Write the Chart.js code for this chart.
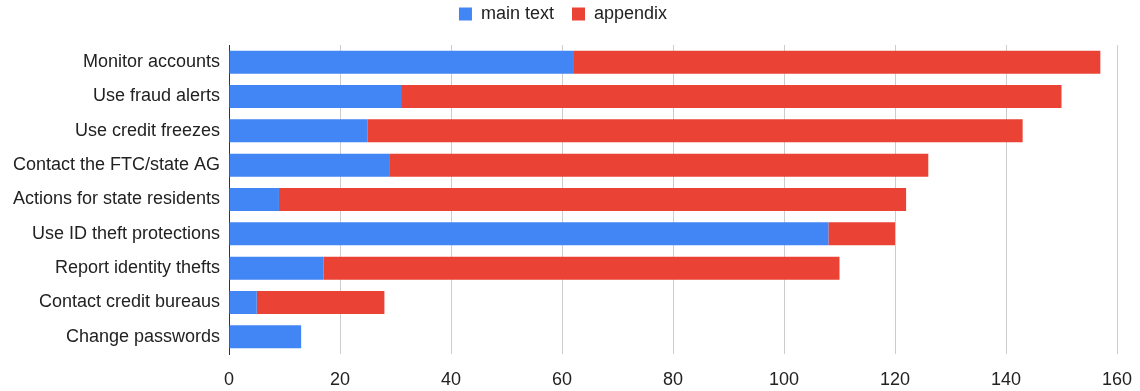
<!DOCTYPE html>
<html lang="en">
<head>
  <meta charset="UTF-8">
  <title>Recommended actions</title>
  <script src="https://cdn.jsdelivr.net/npm/chart.js"></script>
  <style>
    html, body { margin: 0; padding: 0; background: #fff; }
    #wrap { width: 1140px; height: 391px; }
  </style>
</head>
<body>
  <div id="wrap"><canvas id="actionsChart"></canvas></div>

  <script>
    const categories = [
      'Monitor accounts',
      'Use fraud alerts',
      'Use credit freezes',
      'Contact the FTC/state AG',
      'Actions for state residents',
      'Use ID theft protections',
      'Report identity thefts',
      'Contact credit bureaus',
      'Change passwords'
    ];
    const mainText = [62, 31, 25, 29, 9, 108, 17, 5, 13];
    const appendix = [95, 119, 118, 97, 113, 12, 93, 23, 0];
    const xTicks = [0, 20, 40, 60, 80, 100, 120, 140, 160];

    const font = { family: '"Liberation Sans", Arial, sans-serif', size: 18 };
    Chart.defaults.font = font;
    Chart.defaults.color = '#222';

    // legend sits close to the top; the plot starts a fixed distance below it
    const legendGap = {
      id: 'legendGap',
      beforeInit(chart) {
        const fit = chart.legend.fit;
        chart.legend.fit = function () {
          fit.bind(chart.legend)();
          this.height = 58;
        };
      }
    };

    const ctx = document.getElementById('actionsChart').getContext('2d');
    const chart = new Chart(ctx, {
      type: 'bar',
      data: {
        labels: categories,
        datasets: [{
          label: 'main text',
          data: mainText,
          backgroundColor: '#4285F4',
          barPercentage: 0.67,
          categoryPercentage: 1
        }, {
          label: 'appendix',
          data: appendix,
          backgroundColor: '#EA4335',
          barPercentage: 0.67,
          categoryPercentage: 1
        }]
      },
      plugins: [legendGap],
      options: {
        indexAxis: 'y',
        responsive: true,
        maintainAspectRatio: false,
        animation: false,
        layout: { padding: { top: -13, right: 14, bottom: 1, left: 0 } },
        plugins: {
          legend: {
            position: 'top',
            labels: {
              boxWidth: 13,
              boxHeight: 13,
              padding: 18,
              color: '#222',
              font: font
            }
          },
          tooltip: { enabled: false }
        },
        scales: {
          x: {
            stacked: true,
            min: 0,
            max: 160,
            afterBuildTicks: (scale) => { scale.ticks = xTicks.map(v => ({ value: v })); },
            afterFit: (scale) => {
              scale.height = 36;
              scale.paddingLeft = 0;
              scale.paddingRight = 23;
            },
            ticks: { color: '#222', font: font, padding: 15 },
            grid: { color: '#cccccc', drawTicks: false },
            border: { display: false }
          },
          y: {
            stacked: true,
            afterFit: (scale) => { scale.width = 229; },
            ticks: { color: '#222', font: font, padding: 9 },
            grid: { display: false, drawTicks: false },
            border: { color: '#333', width: 1 }
          }
        }
      }
    });
  </script>
</body>
</html>
